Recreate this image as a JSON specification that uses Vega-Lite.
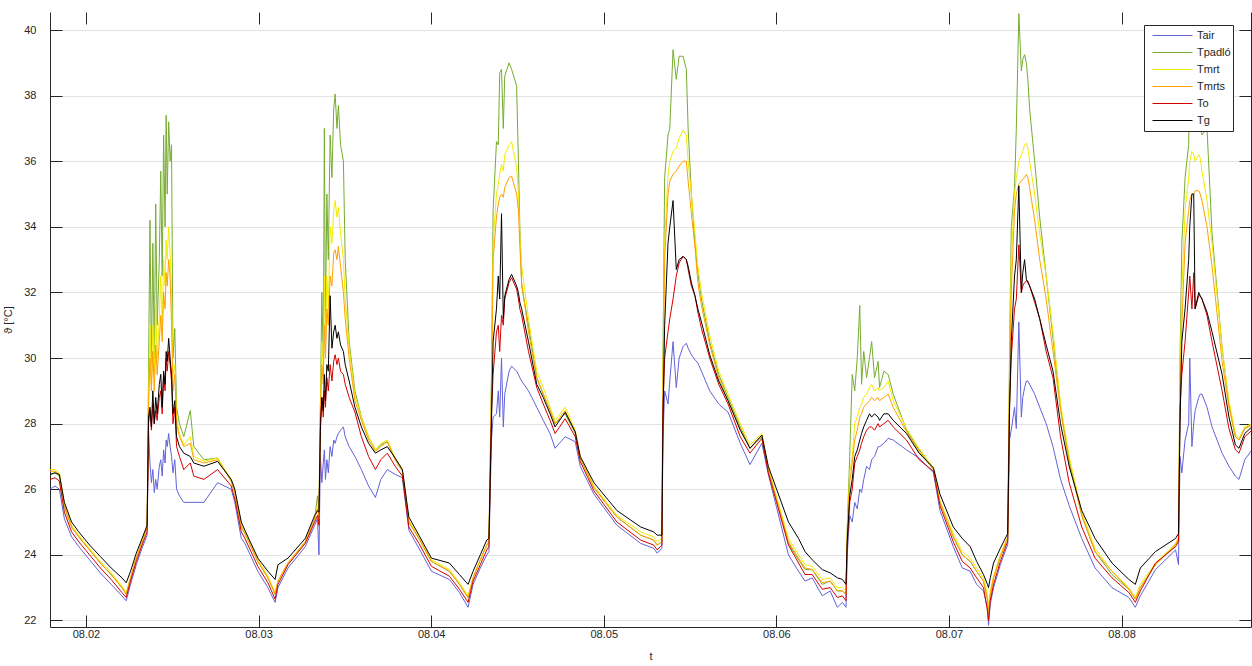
{
"$schema":"https://vega.github.io/schema/vega-lite/v6.json",
"width":1201,"height":615,
"autosize":"none",
"padding":{"left":50,"top":12,"right":1,"bottom":39},
"background":"white",
"config":{
 "font":"Liberation Sans",
 "view":{"stroke":null},
 "axis":{"labelFont":"Liberation Sans","labelFontSize":11,"labelColor":"#262626","titleFont":"Liberation Sans","titleFontSize":11,"titleFontWeight":"normal","titleColor":"#262626","domainColor":"#262626","tickColor":"#262626","tickSize":-12,"gridColor":"#e3e3e3","domainWidth":1,"tickWidth":1}
},
"data":{"values":[
{"t":"2018-08-01T19:00","Tair":26.0,"Tpadló":26.45,"Tmrt":26.6,"Tmrts":26.55,"To":26.3,"Tg":26.45},
{"t":"2018-08-01T19:42","Tair":26.1,"Tpadló":26.5,"Tmrt":26.6,"Tmrts":26.55,"To":26.35,"Tg":26.5},
{"t":"2018-08-01T20:18","Tair":26.0,"Tpadló":26.4,"Tmrt":26.5,"Tmrts":26.45,"To":26.25,"Tg":26.45},
{"t":"2018-08-01T21:00","Tair":25.1,"Tpadló":25.45,"Tmrt":25.55,"Tmrts":25.5,"To":25.3,"Tg":25.6},
{"t":"2018-08-01T22:00","Tair":24.55,"Tpadló":24.85,"Tmrt":24.9,"Tmrts":24.85,"To":24.7,"Tg":25.0},
{"t":"2018-08-01T23:00","Tair":24.25,"Tpadló":24.55,"Tmrt":24.6,"Tmrts":24.55,"To":24.4,"Tg":24.7},
{"t":"2018-08-02T00:30","Tair":23.85,"Tpadló":24.15,"Tmrt":24.2,"Tmrts":24.15,"To":24.0,"Tg":24.3},
{"t":"2018-08-02T02:00","Tair":23.45,"Tpadló":23.75,"Tmrt":23.8,"Tmrts":23.75,"To":23.6,"Tg":23.95},
{"t":"2018-08-02T03:30","Tair":23.1,"Tpadló":23.4,"Tmrt":23.45,"Tmrts":23.4,"To":23.25,"Tg":23.6},
{"t":"2018-08-02T05:00","Tair":22.75,"Tpadló":23.0,"Tmrt":23.05,"Tmrts":23.0,"To":22.85,"Tg":23.3},
{"t":"2018-08-02T05:36","Tair":22.6,"Tpadló":22.8,"Tmrt":22.85,"Tmrts":22.8,"To":22.7,"Tg":23.15},
{"t":"2018-08-02T06:12","Tair":23.1,"Tpadló":23.3,"Tmrt":23.3,"Tmrts":23.3,"To":23.2,"Tg":23.5},
{"t":"2018-08-02T07:00","Tair":23.7,"Tpadló":23.9,"Tmrt":23.9,"Tmrts":23.9,"To":23.8,"Tg":24.05},
{"t":"2018-08-02T07:48","Tair":24.2,"Tpadló":24.4,"Tmrt":24.4,"Tmrts":24.4,"To":24.3,"Tg":24.5},
{"t":"2018-08-02T08:30","Tair":24.6,"Tpadló":24.85,"Tmrt":24.85,"Tmrts":24.85,"To":24.7,"Tg":24.9},
{"t":"2018-08-02T08:42","Tair":27.8,"Tpadló":29.5,"Tmrt":28.8,"Tmrts":28.5,"To":28.0,"Tg":28.2},
{"t":"2018-08-02T08:54","Tair":26.8,"Tpadló":34.2,"Tmrt":31.0,"Tmrts":30.0,"To":28.4,"Tg":28.5},
{"t":"2018-08-02T09:06","Tair":26.2,"Tpadló":29.8,"Tmrt":29.2,"Tmrts":29.0,"To":27.8,"Tg":27.9},
{"t":"2018-08-02T09:18","Tair":26.6,"Tpadló":33.5,"Tmrt":31.0,"Tmrts":30.2,"To":28.6,"Tg":29.0},
{"t":"2018-08-02T09:30","Tair":25.9,"Tpadló":30.0,"Tmrt":29.5,"Tmrts":29.0,"To":28.0,"Tg":28.0},
{"t":"2018-08-02T09:42","Tair":26.3,"Tpadló":34.7,"Tmrt":31.6,"Tmrts":30.4,"To":28.4,"Tg":28.8},
{"t":"2018-08-02T09:54","Tair":26.0,"Tpadló":31.0,"Tmrt":30.0,"Tmrts":29.5,"To":28.1,"Tg":28.3},
{"t":"2018-08-02T10:12","Tair":26.7,"Tpadló":33.0,"Tmrt":31.2,"Tmrts":30.5,"To":28.8,"Tg":29.2},
{"t":"2018-08-02T10:24","Tair":26.9,"Tpadló":35.7,"Tmrt":32.5,"Tmrts":31.3,"To":29.0,"Tg":29.5},
{"t":"2018-08-02T10:36","Tair":26.4,"Tpadló":32.5,"Tmrt":31.0,"Tmrts":30.5,"To":28.3,"Tg":28.5},
{"t":"2018-08-02T10:48","Tair":27.2,"Tpadló":36.8,"Tmrt":33.0,"Tmrts":32.0,"To":29.5,"Tg":29.6},
{"t":"2018-08-02T11:00","Tair":26.8,"Tpadló":34.0,"Tmrt":32.2,"Tmrts":31.5,"To":29.0,"Tg":29.2},
{"t":"2018-08-02T11:09","Tair":27.5,"Tpadló":37.4,"Tmrt":33.6,"Tmrts":32.6,"To":30.0,"Tg":30.2},
{"t":"2018-08-02T11:18","Tair":27.3,"Tpadló":35.0,"Tmrt":33.0,"Tmrts":32.2,"To":29.6,"Tg":29.9},
{"t":"2018-08-02T11:30","Tair":27.7,"Tpadló":37.2,"Tmrt":34.0,"Tmrts":33.0,"To":30.2,"Tg":30.6},
{"t":"2018-08-02T11:42","Tair":27.3,"Tpadló":36.0,"Tmrt":33.2,"Tmrts":32.5,"To":29.8,"Tg":30.0},
{"t":"2018-08-02T11:54","Tair":27.0,"Tpadló":36.5,"Tmrt":32.0,"Tmrts":31.0,"To":29.3,"Tg":29.5},
{"t":"2018-08-02T12:06","Tair":26.5,"Tpadló":30.0,"Tmrt":29.5,"Tmrts":29.0,"To":28.0,"Tg":28.3},
{"t":"2018-08-02T12:21","Tair":26.9,"Tpadló":30.9,"Tmrt":29.8,"Tmrts":29.5,"To":28.5,"Tg":28.7},
{"t":"2018-08-02T12:36","Tair":26.0,"Tpadló":28.5,"Tmrt":28.2,"Tmrts":28.0,"To":27.3,"Tg":27.6},
{"t":"2018-08-02T13:00","Tair":25.8,"Tpadló":28.0,"Tmrt":27.7,"Tmrts":27.6,"To":27.0,"Tg":27.3},
{"t":"2018-08-02T13:36","Tair":25.6,"Tpadló":27.6,"Tmrt":27.35,"Tmrts":27.3,"To":26.6,"Tg":27.1},
{"t":"2018-08-02T14:30","Tair":25.6,"Tpadló":28.4,"Tmrt":27.6,"Tmrts":27.4,"To":26.8,"Tg":27.0},
{"t":"2018-08-02T15:00","Tair":25.6,"Tpadló":27.3,"Tmrt":27.0,"Tmrts":26.9,"To":26.4,"Tg":26.8},
{"t":"2018-08-02T16:24","Tair":25.6,"Tpadló":26.9,"Tmrt":26.85,"Tmrts":26.8,"To":26.3,"Tg":26.7},
{"t":"2018-08-02T18:18","Tair":26.2,"Tpadló":26.95,"Tmrt":26.95,"Tmrts":26.9,"To":26.6,"Tg":26.85},
{"t":"2018-08-02T20:12","Tair":26.0,"Tpadló":26.25,"Tmrt":26.3,"Tmrts":26.25,"To":26.1,"Tg":26.3},
{"t":"2018-08-02T20:42","Tair":25.6,"Tpadló":25.9,"Tmrt":25.95,"Tmrts":25.9,"To":25.7,"Tg":26.0},
{"t":"2018-08-02T21:36","Tair":24.5,"Tpadló":24.85,"Tmrt":24.9,"Tmrts":24.85,"To":24.7,"Tg":25.0},
{"t":"2018-08-02T22:06","Tair":24.35,"Tpadló":24.65,"Tmrt":24.7,"Tmrts":24.65,"To":24.5,"Tg":24.75},
{"t":"2018-08-02T23:54","Tair":23.5,"Tpadló":23.8,"Tmrt":23.85,"Tmrts":23.8,"To":23.65,"Tg":23.9},
{"t":"2018-08-03T01:18","Tair":23.0,"Tpadló":23.3,"Tmrt":23.35,"Tmrts":23.3,"To":23.15,"Tg":23.5},
{"t":"2018-08-03T02:18","Tair":22.55,"Tpadló":22.8,"Tmrt":22.85,"Tmrts":22.8,"To":22.65,"Tg":23.25},
{"t":"2018-08-03T02:42","Tair":23.0,"Tpadló":23.2,"Tmrt":23.2,"Tmrts":23.2,"To":23.1,"Tg":23.7},
{"t":"2018-08-03T04:06","Tair":23.6,"Tpadló":23.75,"Tmrt":23.75,"Tmrts":23.75,"To":23.7,"Tg":23.9},
{"t":"2018-08-03T06:30","Tair":24.25,"Tpadló":24.4,"Tmrt":24.4,"Tmrts":24.4,"To":24.35,"Tg":24.5},
{"t":"2018-08-03T07:48","Tair":24.9,"Tpadló":25.1,"Tmrt":25.1,"Tmrts":25.1,"To":25.0,"Tg":25.2},
{"t":"2018-08-03T08:12","Tair":25.1,"Tpadló":25.8,"Tmrt":25.5,"Tmrts":25.4,"To":25.2,"Tg":25.35},
{"t":"2018-08-03T08:24","Tair":24.0,"Tpadló":25.3,"Tmrt":25.2,"Tmrts":25.1,"To":24.9,"Tg":25.3},
{"t":"2018-08-03T08:36","Tair":27.0,"Tpadló":28.5,"Tmrt":28.5,"Tmrts":28.5,"To":28.0,"Tg":27.8},
{"t":"2018-08-03T08:48","Tair":26.2,"Tpadló":32.0,"Tmrt":30.5,"Tmrts":29.8,"To":28.8,"Tg":28.8},
{"t":"2018-08-03T09:00","Tair":26.8,"Tpadló":30.0,"Tmrt":29.5,"Tmrts":29.2,"To":28.2,"Tg":28.4},
{"t":"2018-08-03T09:09","Tair":27.2,"Tpadló":37.0,"Tmrt":32.5,"Tmrts":31.0,"To":29.0,"Tg":29.5},
{"t":"2018-08-03T09:18","Tair":26.3,"Tpadló":31.0,"Tmrt":30.5,"Tmrts":30.0,"To":28.5,"Tg":28.7},
{"t":"2018-08-03T09:30","Tair":26.9,"Tpadló":35.0,"Tmrt":32.5,"Tmrts":31.5,"To":29.4,"Tg":29.8},
{"t":"2018-08-03T09:42","Tair":26.5,"Tpadló":33.0,"Tmrt":31.5,"Tmrts":31.0,"To":29.0,"Tg":29.6},
{"t":"2018-08-03T09:57","Tair":27.3,"Tpadló":36.8,"Tmrt":34.0,"Tmrts":32.5,"To":29.8,"Tg":31.9},
{"t":"2018-08-03T10:12","Tair":27.0,"Tpadló":35.5,"Tmrt":33.5,"Tmrts":32.2,"To":29.3,"Tg":30.3},
{"t":"2018-08-03T10:27","Tair":27.5,"Tpadló":37.6,"Tmrt":34.5,"Tmrts":33.2,"To":29.9,"Tg":30.8},
{"t":"2018-08-03T10:39","Tair":27.4,"Tpadló":38.05,"Tmrt":34.8,"Tmrts":33.3,"To":30.1,"Tg":31.0},
{"t":"2018-08-03T10:54","Tair":27.6,"Tpadló":37.0,"Tmrt":34.3,"Tmrts":33.0,"To":29.8,"Tg":30.6},
{"t":"2018-08-03T11:06","Tair":27.7,"Tpadló":37.7,"Tmrt":34.6,"Tmrts":33.4,"To":30.0,"Tg":30.8},
{"t":"2018-08-03T11:24","Tair":27.8,"Tpadló":36.5,"Tmrt":33.8,"Tmrts":32.8,"To":29.6,"Tg":30.4},
{"t":"2018-08-03T11:48","Tair":27.9,"Tpadló":36.0,"Tmrt":33.0,"Tmrts":32.0,"To":29.5,"Tg":30.2},
{"t":"2018-08-03T12:03","Tair":27.6,"Tpadló":33.0,"Tmrt":31.8,"Tmrts":31.2,"To":29.2,"Tg":29.8},
{"t":"2018-08-03T12:36","Tair":27.3,"Tpadló":30.5,"Tmrt":30.3,"Tmrts":30.0,"To":28.8,"Tg":29.3},
{"t":"2018-08-03T13:24","Tair":27.0,"Tpadló":29.0,"Tmrt":28.85,"Tmrts":28.7,"To":28.35,"Tg":28.5},
{"t":"2018-08-03T14:18","Tair":26.6,"Tpadló":28.2,"Tmrt":28.2,"Tmrts":28.1,"To":27.6,"Tg":27.9},
{"t":"2018-08-03T15:18","Tair":26.1,"Tpadló":27.6,"Tmrt":27.6,"Tmrts":27.5,"To":27.0,"Tg":27.4},
{"t":"2018-08-03T16:15","Tair":25.75,"Tpadló":27.2,"Tmrt":27.2,"Tmrts":27.15,"To":26.6,"Tg":27.1},
{"t":"2018-08-03T17:00","Tair":26.3,"Tpadló":27.35,"Tmrt":27.4,"Tmrts":27.3,"To":26.9,"Tg":27.2},
{"t":"2018-08-03T17:54","Tair":26.6,"Tpadló":27.45,"Tmrt":27.5,"Tmrts":27.45,"To":27.1,"Tg":27.3},
{"t":"2018-08-03T19:00","Tair":26.45,"Tpadló":26.9,"Tmrt":26.95,"Tmrts":26.9,"To":26.7,"Tg":26.95},
{"t":"2018-08-03T20:00","Tair":26.35,"Tpadló":26.55,"Tmrt":26.6,"Tmrts":26.55,"To":26.4,"Tg":26.6},
{"t":"2018-08-03T20:54","Tair":24.75,"Tpadló":25.0,"Tmrt":25.05,"Tmrts":25.0,"To":24.85,"Tg":25.15},
{"t":"2018-08-03T22:18","Tair":24.2,"Tpadló":24.5,"Tmrt":24.55,"Tmrts":24.5,"To":24.35,"Tg":24.6},
{"t":"2018-08-04T00:02","Tair":23.5,"Tpadló":23.8,"Tmrt":23.85,"Tmrts":23.8,"To":23.65,"Tg":23.9},
{"t":"2018-08-04T02:32","Tair":23.25,"Tpadló":23.5,"Tmrt":23.55,"Tmrts":23.5,"To":23.35,"Tg":23.75},
{"t":"2018-08-04T03:56","Tair":22.85,"Tpadló":23.1,"Tmrt":23.15,"Tmrts":23.1,"To":22.95,"Tg":23.4},
{"t":"2018-08-04T05:08","Tair":22.4,"Tpadló":22.7,"Tmrt":22.75,"Tmrts":22.7,"To":22.55,"Tg":23.1},
{"t":"2018-08-04T05:50","Tair":23.1,"Tpadló":23.3,"Tmrt":23.3,"Tmrts":23.3,"To":23.2,"Tg":23.5},
{"t":"2018-08-04T06:50","Tair":23.6,"Tpadló":23.85,"Tmrt":23.85,"Tmrts":23.85,"To":23.7,"Tg":24.0},
{"t":"2018-08-04T07:44","Tair":24.0,"Tpadló":24.3,"Tmrt":24.3,"Tmrts":24.3,"To":24.15,"Tg":24.45},
{"t":"2018-08-04T08:02","Tair":24.1,"Tpadló":24.4,"Tmrt":24.4,"Tmrts":24.4,"To":24.25,"Tg":24.5},
{"t":"2018-08-04T08:23","Tair":27.5,"Tpadló":29.5,"Tmrt":29.0,"Tmrts":28.8,"To":28.3,"Tg":28.0},
{"t":"2018-08-04T08:37","Tair":28.2,"Tpadló":34.5,"Tmrt":33.5,"Tmrts":33.0,"To":29.5,"Tg":30.5},
{"t":"2018-08-04T09:05","Tair":28.3,"Tpadló":36.6,"Tmrt":35.0,"Tmrts":34.3,"To":30.8,"Tg":31.5},
{"t":"2018-08-04T09:20","Tair":29.0,"Tpadló":36.5,"Tmrt":35.3,"Tmrts":34.7,"To":31.0,"Tg":32.5},
{"t":"2018-08-04T09:32","Tair":28.2,"Tpadló":38.7,"Tmrt":35.6,"Tmrts":34.9,"To":30.2,"Tg":31.8},
{"t":"2018-08-04T09:47","Tair":30.0,"Tpadló":38.8,"Tmrt":35.9,"Tmrts":35.0,"To":31.3,"Tg":34.4},
{"t":"2018-08-04T10:02","Tair":27.9,"Tpadló":37.0,"Tmrt":35.7,"Tmrts":34.9,"To":31.0,"Tg":31.2},
{"t":"2018-08-04T10:14","Tair":28.9,"Tpadló":38.6,"Tmrt":36.2,"Tmrts":35.2,"To":31.8,"Tg":31.9},
{"t":"2018-08-04T10:50","Tair":29.6,"Tpadló":39.0,"Tmrt":36.5,"Tmrts":35.5,"To":32.3,"Tg":32.4},
{"t":"2018-08-04T11:11","Tair":29.75,"Tpadló":38.8,"Tmrt":36.6,"Tmrts":35.55,"To":32.45,"Tg":32.55},
{"t":"2018-08-04T11:53","Tair":29.6,"Tpadló":38.3,"Tmrt":35.8,"Tmrts":35.0,"To":32.1,"Tg":32.2},
{"t":"2018-08-04T12:08","Tair":29.5,"Tpadló":36.0,"Tmrt":35.0,"Tmrts":34.5,"To":31.8,"Tg":32.0},
{"t":"2018-08-04T12:20","Tair":29.4,"Tpadló":34.0,"Tmrt":33.8,"Tmrts":33.4,"To":31.5,"Tg":31.7},
{"t":"2018-08-04T12:35","Tair":29.3,"Tpadló":32.2,"Tmrt":32.8,"Tmrts":32.3,"To":31.3,"Tg":31.5},
{"t":"2018-08-04T13:32","Tair":29.0,"Tpadló":31.0,"Tmrt":31.2,"Tmrts":30.8,"To":30.2,"Tg":30.5},
{"t":"2018-08-04T14:41","Tair":28.5,"Tpadló":29.4,"Tmrt":29.6,"Tmrts":29.4,"To":29.1,"Tg":29.2},
{"t":"2018-08-04T15:35","Tair":28.1,"Tpadló":28.9,"Tmrt":29.1,"Tmrts":28.9,"To":28.6,"Tg":28.8},
{"t":"2018-08-04T16:32","Tair":27.7,"Tpadló":28.4,"Tmrt":28.5,"Tmrts":28.4,"To":28.1,"Tg":28.3},
{"t":"2018-08-04T17:14","Tair":27.25,"Tpadló":28.0,"Tmrt":28.1,"Tmrts":28.0,"To":27.7,"Tg":27.9},
{"t":"2018-08-04T18:38","Tair":27.6,"Tpadló":28.3,"Tmrt":28.5,"Tmrts":28.4,"To":28.15,"Tg":28.35},
{"t":"2018-08-04T20:02","Tair":27.45,"Tpadló":27.7,"Tmrt":27.8,"Tmrts":27.75,"To":27.6,"Tg":27.75},
{"t":"2018-08-04T20:44","Tair":26.7,"Tpadló":26.95,"Tmrt":27.0,"Tmrts":26.95,"To":26.85,"Tg":27.0},
{"t":"2018-08-04T22:38","Tair":25.85,"Tpadló":26.05,"Tmrt":26.1,"Tmrts":26.05,"To":25.95,"Tg":26.2},
{"t":"2018-08-05T01:50","Tair":24.9,"Tpadló":25.15,"Tmrt":25.2,"Tmrts":25.15,"To":25.0,"Tg":25.35},
{"t":"2018-08-05T05:08","Tair":24.35,"Tpadló":24.6,"Tmrt":24.7,"Tmrts":24.6,"To":24.45,"Tg":24.85},
{"t":"2018-08-05T06:56","Tair":24.2,"Tpadló":24.45,"Tmrt":24.55,"Tmrts":24.45,"To":24.3,"Tg":24.7},
{"t":"2018-08-05T07:26","Tair":24.05,"Tpadló":24.3,"Tmrt":24.4,"Tmrts":24.3,"To":24.15,"Tg":24.6},
{"t":"2018-08-05T08:05","Tair":24.2,"Tpadló":24.4,"Tmrt":24.5,"Tmrts":24.4,"To":24.3,"Tg":24.6},
{"t":"2018-08-05T08:14","Tair":27.5,"Tpadló":30.0,"Tmrt":29.5,"Tmrts":29.0,"To":28.5,"Tg":28.0},
{"t":"2018-08-05T08:28","Tair":29.0,"Tpadló":35.5,"Tmrt":33.5,"Tmrts":33.0,"To":30.0,"Tg":31.0},
{"t":"2018-08-05T08:56","Tair":28.6,"Tpadló":36.8,"Tmrt":35.6,"Tmrts":35.0,"To":30.8,"Tg":33.5},
{"t":"2018-08-05T09:11","Tair":29.3,"Tpadló":37.0,"Tmrt":36.0,"Tmrts":35.4,"To":31.2,"Tg":34.0},
{"t":"2018-08-05T09:38","Tair":30.5,"Tpadló":39.4,"Tmrt":36.3,"Tmrts":35.6,"To":31.8,"Tg":34.8},
{"t":"2018-08-05T10:05","Tair":29.1,"Tpadló":38.5,"Tmrt":36.4,"Tmrts":35.7,"To":32.5,"Tg":32.7},
{"t":"2018-08-05T10:29","Tair":30.0,"Tpadló":39.2,"Tmrt":36.7,"Tmrts":35.85,"To":32.9,"Tg":33.0},
{"t":"2018-08-05T11:02","Tair":30.35,"Tpadló":39.2,"Tmrt":36.95,"Tmrts":36.0,"To":33.1,"Tg":33.1},
{"t":"2018-08-05T11:29","Tair":30.45,"Tpadló":38.8,"Tmrt":36.8,"Tmrts":36.0,"To":33.0,"Tg":33.0},
{"t":"2018-08-05T11:44","Tair":30.3,"Tpadló":37.0,"Tmrt":36.0,"Tmrts":35.4,"To":32.7,"Tg":32.8},
{"t":"2018-08-05T12:11","Tair":30.1,"Tpadló":35.0,"Tmrt":35.0,"Tmrts":34.4,"To":32.2,"Tg":32.3},
{"t":"2018-08-05T12:41","Tair":29.95,"Tpadló":33.5,"Tmrt":33.8,"Tmrts":33.4,"To":31.9,"Tg":31.9},
{"t":"2018-08-05T13:05","Tair":29.85,"Tpadló":32.6,"Tmrt":32.8,"Tmrts":32.3,"To":31.4,"Tg":31.5},
{"t":"2018-08-05T13:35","Tair":29.6,"Tpadló":31.8,"Tmrt":32.0,"Tmrts":31.6,"To":30.9,"Tg":31.1},
{"t":"2018-08-05T14:44","Tair":29.0,"Tpadló":30.5,"Tmrt":30.7,"Tmrts":30.4,"To":30.0,"Tg":30.1},
{"t":"2018-08-05T15:59","Tair":28.6,"Tpadló":29.5,"Tmrt":29.6,"Tmrts":29.4,"To":29.2,"Tg":29.3},
{"t":"2018-08-05T17:17","Tair":28.35,"Tpadló":28.8,"Tmrt":28.9,"Tmrts":28.7,"To":28.6,"Tg":28.7},
{"t":"2018-08-05T18:59","Tair":27.4,"Tpadló":27.9,"Tmrt":28.0,"Tmrts":27.85,"To":27.6,"Tg":27.8},
{"t":"2018-08-05T20:20","Tair":26.75,"Tpadló":27.25,"Tmrt":27.35,"Tmrts":27.25,"To":27.1,"Tg":27.25},
{"t":"2018-08-05T21:59","Tair":27.4,"Tpadló":27.6,"Tmrt":27.7,"Tmrts":27.65,"To":27.55,"Tg":27.65},
{"t":"2018-08-05T22:53","Tair":26.45,"Tpadló":26.6,"Tmrt":26.65,"Tmrts":26.6,"To":26.5,"Tg":26.7},
{"t":"2018-08-06T01:41","Tair":24.0,"Tpadló":24.35,"Tmrt":24.5,"Tmrts":24.4,"To":24.3,"Tg":25.0},
{"t":"2018-08-06T03:05","Tair":23.5,"Tpadló":23.85,"Tmrt":24.0,"Tmrts":23.9,"To":23.75,"Tg":24.5},
{"t":"2018-08-06T03:59","Tair":23.2,"Tpadló":23.55,"Tmrt":23.7,"Tmrts":23.6,"To":23.4,"Tg":24.1},
{"t":"2018-08-06T04:59","Tair":23.3,"Tpadló":23.55,"Tmrt":23.65,"Tmrts":23.55,"To":23.4,"Tg":23.85},
{"t":"2018-08-06T06:23","Tair":22.75,"Tpadló":23.1,"Tmrt":23.25,"Tmrts":23.15,"To":22.95,"Tg":23.55},
{"t":"2018-08-06T07:29","Tair":22.9,"Tpadló":23.2,"Tmrt":23.3,"Tmrts":23.2,"To":23.0,"Tg":23.45},
{"t":"2018-08-06T08:29","Tair":22.4,"Tpadló":22.9,"Tmrt":23.0,"Tmrts":22.9,"To":22.7,"Tg":23.3},
{"t":"2018-08-06T09:11","Tair":22.55,"Tpadló":22.9,"Tmrt":23.0,"Tmrts":22.9,"To":22.75,"Tg":23.25},
{"t":"2018-08-06T09:41","Tair":22.4,"Tpadló":22.8,"Tmrt":22.9,"Tmrts":22.8,"To":22.6,"Tg":23.1},
{"t":"2018-08-06T09:51","Tair":24.0,"Tpadló":24.8,"Tmrt":24.6,"Tmrts":24.5,"To":24.3,"Tg":24.4},
{"t":"2018-08-06T10:12","Tair":25.2,"Tpadló":27.0,"Tmrt":26.5,"Tmrts":26.2,"To":25.6,"Tg":25.8},
{"t":"2018-08-06T10:33","Tair":25.0,"Tpadló":29.5,"Tmrt":27.0,"Tmrts":26.8,"To":26.0,"Tg":26.3},
{"t":"2018-08-06T10:54","Tair":25.6,"Tpadló":29.0,"Tmrt":28.0,"Tmrts":27.5,"To":26.8,"Tg":27.0},
{"t":"2018-08-06T11:15","Tair":25.4,"Tpadló":30.0,"Tmrt":28.2,"Tmrts":27.8,"To":27.0,"Tg":27.2},
{"t":"2018-08-06T11:36","Tair":26.0,"Tpadló":31.6,"Tmrt":28.5,"Tmrts":28.2,"To":27.2,"Tg":27.5},
{"t":"2018-08-06T11:51","Tair":25.9,"Tpadló":29.2,"Tmrt":28.6,"Tmrts":28.3,"To":27.4,"Tg":27.7},
{"t":"2018-08-06T12:09","Tair":26.3,"Tpadló":30.2,"Tmrt":28.8,"Tmrts":28.5,"To":27.6,"Tg":27.9},
{"t":"2018-08-06T12:33","Tair":26.7,"Tpadló":29.4,"Tmrt":28.9,"Tmrts":28.6,"To":27.8,"Tg":28.1},
{"t":"2018-08-06T12:57","Tair":26.6,"Tpadló":30.0,"Tmrt":29.1,"Tmrts":28.7,"To":27.9,"Tg":28.3},
{"t":"2018-08-06T13:15","Tair":26.9,"Tpadló":30.5,"Tmrt":29.2,"Tmrts":28.8,"To":27.9,"Tg":28.2},
{"t":"2018-08-06T13:39","Tair":27.0,"Tpadló":29.4,"Tmrt":29.0,"Tmrts":28.7,"To":27.8,"Tg":28.3},
{"t":"2018-08-06T14:09","Tair":27.3,"Tpadló":29.9,"Tmrt":29.1,"Tmrts":28.8,"To":28.0,"Tg":28.2},
{"t":"2018-08-06T14:21","Tair":27.3,"Tpadló":29.1,"Tmrt":29.0,"Tmrts":28.7,"To":27.9,"Tg":28.1},
{"t":"2018-08-06T14:57","Tair":27.4,"Tpadló":29.6,"Tmrt":29.1,"Tmrts":28.8,"To":28.0,"Tg":28.3},
{"t":"2018-08-06T15:33","Tair":27.55,"Tpadló":29.5,"Tmrt":29.3,"Tmrts":28.9,"To":28.1,"Tg":28.3},
{"t":"2018-08-06T16:15","Tair":27.5,"Tpadló":28.9,"Tmrt":28.7,"Tmrts":28.5,"To":27.9,"Tg":28.1},
{"t":"2018-08-06T18:06","Tair":27.2,"Tpadló":27.8,"Tmrt":27.85,"Tmrts":27.75,"To":27.5,"Tg":27.7},
{"t":"2018-08-06T19:51","Tair":26.95,"Tpadló":27.2,"Tmrt":27.25,"Tmrts":27.15,"To":26.9,"Tg":27.1},
{"t":"2018-08-06T21:51","Tair":26.5,"Tpadló":26.6,"Tmrt":26.65,"Tmrts":26.6,"To":26.55,"Tg":26.65},
{"t":"2018-08-06T22:45","Tair":25.35,"Tpadló":25.6,"Tmrt":25.65,"Tmrts":25.6,"To":25.5,"Tg":25.85},
{"t":"2018-08-07T00:36","Tair":24.25,"Tpadló":24.55,"Tmrt":24.65,"Tmrts":24.55,"To":24.4,"Tg":24.85},
{"t":"2018-08-07T01:51","Tair":23.6,"Tpadló":24.0,"Tmrt":24.1,"Tmrts":24.0,"To":23.8,"Tg":24.5},
{"t":"2018-08-07T02:57","Tair":23.5,"Tpadló":23.8,"Tmrt":23.9,"Tmrts":23.8,"To":23.6,"Tg":24.25},
{"t":"2018-08-07T03:51","Tair":23.1,"Tpadló":23.5,"Tmrt":23.6,"Tmrts":23.5,"To":23.3,"Tg":23.8},
{"t":"2018-08-07T04:48","Tair":22.9,"Tpadló":23.2,"Tmrt":23.3,"Tmrts":23.2,"To":23.0,"Tg":23.4},
{"t":"2018-08-07T05:21","Tair":22.4,"Tpadló":22.7,"Tmrt":22.8,"Tmrts":22.6,"To":22.3,"Tg":23.1},
{"t":"2018-08-07T05:30","Tair":21.85,"Tpadló":22.3,"Tmrt":22.4,"Tmrts":22.2,"To":22.0,"Tg":23.0},
{"t":"2018-08-07T05:45","Tair":22.5,"Tpadló":22.8,"Tmrt":22.9,"Tmrts":22.8,"To":22.6,"Tg":23.3},
{"t":"2018-08-07T06:12","Tair":23.0,"Tpadló":23.3,"Tmrt":23.35,"Tmrts":23.3,"To":23.1,"Tg":23.75},
{"t":"2018-08-07T07:09","Tair":23.7,"Tpadló":23.95,"Tmrt":24.0,"Tmrts":23.95,"To":23.8,"Tg":24.2},
{"t":"2018-08-07T08:03","Tair":24.25,"Tpadló":24.45,"Tmrt":24.5,"Tmrts":24.45,"To":24.35,"Tg":24.6},
{"t":"2018-08-07T08:10","Tair":24.3,"Tpadló":24.5,"Tmrt":24.55,"Tmrts":24.5,"To":24.4,"Tg":24.65},
{"t":"2018-08-07T08:25","Tair":27.5,"Tpadló":30.0,"Tmrt":29.5,"Tmrts":29.0,"To":28.5,"Tg":28.3},
{"t":"2018-08-07T08:40","Tair":27.8,"Tpadló":34.0,"Tmrt":33.0,"Tmrts":32.0,"To":30.0,"Tg":30.5},
{"t":"2018-08-07T09:07","Tair":28.5,"Tpadló":35.2,"Tmrt":35.0,"Tmrts":34.5,"To":31.5,"Tg":32.5},
{"t":"2018-08-07T09:22","Tair":27.85,"Tpadló":37.0,"Tmrt":35.5,"Tmrts":35.0,"To":31.8,"Tg":33.0},
{"t":"2018-08-07T09:43","Tair":31.1,"Tpadló":40.5,"Tmrt":36.0,"Tmrts":35.3,"To":33.45,"Tg":35.25},
{"t":"2018-08-07T10:04","Tair":28.2,"Tpadló":38.75,"Tmrt":36.2,"Tmrts":35.4,"To":32.0,"Tg":32.0},
{"t":"2018-08-07T10:16","Tair":28.8,"Tpadló":39.1,"Tmrt":36.3,"Tmrts":35.45,"To":32.2,"Tg":32.6},
{"t":"2018-08-07T10:31","Tair":29.1,"Tpadló":39.25,"Tmrt":36.5,"Tmrts":35.5,"To":32.3,"Tg":33.0},
{"t":"2018-08-07T10:46","Tair":29.3,"Tpadló":39.0,"Tmrt":36.55,"Tmrts":35.6,"To":32.35,"Tg":32.4},
{"t":"2018-08-07T10:58","Tair":29.3,"Tpadló":38.5,"Tmrt":36.4,"Tmrts":35.5,"To":32.35,"Tg":32.3},
{"t":"2018-08-07T11:13","Tair":29.2,"Tpadló":37.6,"Tmrt":36.0,"Tmrts":35.2,"To":32.2,"Tg":32.2},
{"t":"2018-08-07T11:55","Tair":28.9,"Tpadló":36.0,"Tmrt":35.0,"Tmrts":34.2,"To":31.7,"Tg":31.8},
{"t":"2018-08-07T12:37","Tair":28.5,"Tpadló":34.3,"Tmrt":33.8,"Tmrts":33.0,"To":31.2,"Tg":31.2},
{"t":"2018-08-07T13:31","Tair":28.0,"Tpadló":32.5,"Tmrt":32.5,"Tmrts":31.8,"To":30.2,"Tg":30.4},
{"t":"2018-08-07T14:28","Tair":27.3,"Tpadló":30.6,"Tmrt":30.8,"Tmrts":30.2,"To":29.4,"Tg":29.6},
{"t":"2018-08-07T15:31","Tair":26.3,"Tpadló":28.5,"Tmrt":28.6,"Tmrts":28.4,"To":27.6,"Tg":28.0},
{"t":"2018-08-07T16:43","Tair":25.5,"Tpadló":26.9,"Tmrt":27.0,"Tmrts":26.8,"To":26.2,"Tg":26.7},
{"t":"2018-08-07T18:28","Tair":24.5,"Tpadló":25.2,"Tmrt":25.3,"Tmrts":25.2,"To":24.85,"Tg":25.35},
{"t":"2018-08-07T20:19","Tair":23.6,"Tpadló":24.1,"Tmrt":24.2,"Tmrts":24.1,"To":23.9,"Tg":24.5},
{"t":"2018-08-07T22:40","Tair":23.0,"Tpadló":23.4,"Tmrt":23.5,"Tmrts":23.5,"To":23.3,"Tg":23.75},
{"t":"2018-08-08T01:01","Tair":22.7,"Tpadló":22.95,"Tmrt":23.0,"Tmrts":22.95,"To":22.85,"Tg":23.25},
{"t":"2018-08-08T01:55","Tair":22.4,"Tpadló":22.65,"Tmrt":22.7,"Tmrts":22.65,"To":22.55,"Tg":23.1},
{"t":"2018-08-08T02:37","Tair":22.75,"Tpadló":23.0,"Tmrt":23.1,"Tmrts":23.0,"To":22.9,"Tg":23.6},
{"t":"2018-08-08T04:43","Tair":23.55,"Tpadló":23.7,"Tmrt":23.75,"Tmrts":23.7,"To":23.75,"Tg":24.1},
{"t":"2018-08-08T07:31","Tair":24.15,"Tpadló":24.3,"Tmrt":24.35,"Tmrts":24.3,"To":24.25,"Tg":24.5},
{"t":"2018-08-08T07:55","Tair":23.7,"Tpadló":24.5,"Tmrt":24.55,"Tmrts":24.5,"To":24.4,"Tg":24.65},
{"t":"2018-08-08T08:08","Tair":27.0,"Tpadló":30.0,"Tmrt":29.5,"Tmrts":29.0,"To":28.5,"Tg":28.0},
{"t":"2018-08-08T08:23","Tair":26.5,"Tpadló":33.5,"Tmrt":32.0,"Tmrts":31.0,"To":29.5,"Tg":30.5},
{"t":"2018-08-08T08:50","Tair":27.5,"Tpadló":35.5,"Tmrt":34.5,"Tmrts":33.5,"To":30.5,"Tg":31.5},
{"t":"2018-08-08T09:20","Tair":28.0,"Tpadló":36.5,"Tmrt":35.5,"Tmrts":34.5,"To":32.0,"Tg":33.0},
{"t":"2018-08-08T09:29","Tair":30.0,"Tpadló":38.5,"Tmrt":36.0,"Tmrts":34.8,"To":32.5,"Tg":34.0},
{"t":"2018-08-08T09:47","Tair":27.3,"Tpadló":37.5,"Tmrt":36.3,"Tmrts":35.0,"To":31.5,"Tg":35.0},
{"t":"2018-08-08T10:02","Tair":28.0,"Tpadló":38.8,"Tmrt":36.2,"Tmrts":35.0,"To":32.6,"Tg":35.0},
{"t":"2018-08-08T10:14","Tair":28.4,"Tpadló":37.0,"Tmrt":36.0,"Tmrts":35.1,"To":31.5,"Tg":31.5},
{"t":"2018-08-08T10:44","Tair":28.8,"Tpadló":37.5,"Tmrt":36.2,"Tmrts":35.1,"To":31.9,"Tg":32.0},
{"t":"2018-08-08T10:56","Tair":28.9,"Tpadló":37.2,"Tmrt":36.1,"Tmrts":35.0,"To":31.9,"Tg":31.9},
{"t":"2018-08-08T11:11","Tair":28.9,"Tpadló":36.8,"Tmrt":35.7,"Tmrts":34.8,"To":31.8,"Tg":31.8},
{"t":"2018-08-08T11:53","Tair":28.5,"Tpadló":37.0,"Tmrt":34.8,"Tmrts":34.0,"To":31.3,"Tg":31.4},
{"t":"2018-08-08T12:35","Tair":27.9,"Tpadló":33.8,"Tmrt":33.5,"Tmrts":32.8,"To":30.5,"Tg":30.8},
{"t":"2018-08-08T13:59","Tair":27.1,"Tpadló":30.3,"Tmrt":30.3,"Tmrts":29.9,"To":29.0,"Tg":29.5},
{"t":"2018-08-08T14:56","Tair":26.7,"Tpadló":28.6,"Tmrt":28.7,"Tmrts":28.5,"To":27.85,"Tg":28.2},
{"t":"2018-08-08T15:50","Tair":26.4,"Tpadló":27.6,"Tmrt":27.7,"Tmrts":27.6,"To":27.2,"Tg":27.35},
{"t":"2018-08-08T16:20","Tair":26.3,"Tpadló":27.5,"Tmrt":27.55,"Tmrts":27.5,"To":27.1,"Tg":27.25},
{"t":"2018-08-08T17:08","Tair":26.9,"Tpadló":27.85,"Tmrt":27.9,"Tmrts":27.85,"To":27.6,"Tg":27.7},
{"t":"2018-08-08T18:08","Tair":27.2,"Tpadló":28.0,"Tmrt":28.0,"Tmrts":27.95,"To":27.8,"Tg":27.9}
]},
"transform":[{"fold":["Tair","Tpadló","Tmrt","Tmrts","To","Tg"],"as":["s","v"]}],
"layer":[
 {"mark":{"type":"line","strokeWidth":1,"clip":true},
  "encoding":{
   "x":{"field":"t","type":"temporal",
    "scale":{"domain":[{"year":2018,"month":8,"date":1,"hours":19},{"year":2018,"month":8,"date":8,"hours":18}]},
    "axis":{"orient":"bottom","title":"t","format":"%m.%d","grid":false,"labelPadding":13,"titlePadding":11,
     "values":[{"year":2018,"month":8,"date":2},{"year":2018,"month":8,"date":3},{"year":2018,"month":8,"date":4},{"year":2018,"month":8,"date":5},{"year":2018,"month":8,"date":6},{"year":2018,"month":8,"date":7},{"year":2018,"month":8,"date":8}]}},
   "y":{"field":"v","type":"quantitative",
    "scale":{"domain":[21.8,40.55],"nice":false,"zero":false},
    "axis":{"orient":"left","title":"ϑ [°C]","grid":true,"labelPadding":26,"titlePadding":10,"values":[22,24,26,28,30,32,34,36,38,40]}},
   "color":{"field":"s","type":"nominal",
    "scale":{"domain":["Tair","Tpadló","Tmrt","Tmrts","To","Tg"],"range":["#6262db","#77ac30","#f2ec00","#ffa000","#d40000","#000000"]},
    "legend":{"orient":"none","legendX":1094,"legendY":13,"title":null,"symbolType":"stroke","symbolSize":1600,"symbolStrokeWidth":1,"symbolOpacity":1,"clipHeight":17,"rowPadding":0,"padding":2,"symbolOffset":6,"labelOffset":4,"labelFontSize":11,"labelFont":"Liberation Sans","labelColor":"#262626","strokeColor":"#262626","fillColor":"white","cornerRadius":0}}
  }},
 {"mark":{"type":"line","opacity":0},
  "encoding":{
   "x":{"field":"t","type":"temporal",
    "scale":{"domain":[{"year":2018,"month":8,"date":1,"hours":19},{"year":2018,"month":8,"date":8,"hours":18}]},
    "axis":{"orient":"top","title":null,"labels":false,"domain":false,"grid":false,
     "values":[{"year":2018,"month":8,"date":2},{"year":2018,"month":8,"date":3},{"year":2018,"month":8,"date":4},{"year":2018,"month":8,"date":5},{"year":2018,"month":8,"date":6},{"year":2018,"month":8,"date":7},{"year":2018,"month":8,"date":8}]}},
   "y":{"field":"v","type":"quantitative",
    "scale":{"domain":[21.8,40.55],"nice":false,"zero":false},
    "axis":{"orient":"right","title":null,"labels":false,"grid":false,"values":[22,24,26,28,30,32,34,36,38,40]}}
  }}
],
"resolve":{"axis":{"x":"independent","y":"independent"}}
}
